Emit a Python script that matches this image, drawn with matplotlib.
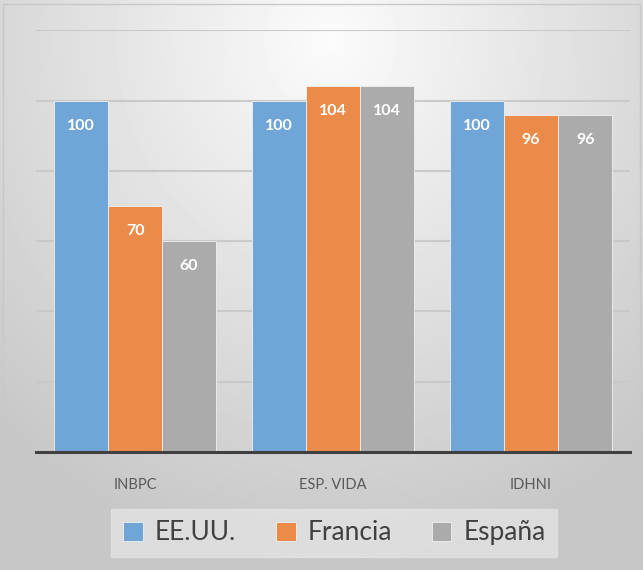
import numpy as np
import matplotlib
matplotlib.use('Agg')
import matplotlib.pyplot as plt
from matplotlib.patches import Rectangle

# Data
categories = ['INBPC', 'ESP. VIDA', 'IDHNI']
series_names = ['EE.UU.', 'Francia', 'España']
eeuu = [100, 100, 100]
francia = [70, 104, 96]
espana = [60, 104, 96]
colors = ['#6fa5d7', '#eb8b4a', '#ababab']

fig = plt.figure(figsize=(6.43, 5.70), dpi=100)

# background radial gradient
bg = fig.add_axes([0, 0, 1, 1], zorder=-10)
yy, xx = np.mgrid[0:570, 0:643]
r = np.sqrt(((xx - 330) / 520.0) ** 2 + ((yy - 40) / 560.0) ** 2)
shade = np.clip(0.985 - 0.22 * r, 0.78, 0.985)
bg.imshow(shade, cmap='gray', vmin=0, vmax=1, aspect='auto',
          extent=[0, 1, 0, 1], origin='upper')
bg.add_patch(Rectangle((0.004, 0.0), 0.992, 0.993, transform=bg.transAxes,
                       fill=False, edgecolor='#c8c8c8', linewidth=1))
bg.set_axis_off()

ax = fig.add_axes([0.056, 0.207, 0.924, 0.740])
ax.patch.set_alpha(0)

x = np.arange(len(categories))
width = 0.273
all_series = [eeuu, francia, espana]
for i, (vals, name, col) in enumerate(zip(all_series, series_names, colors)):
    pos = x + (i - 1) * width
    bars = ax.bar(pos, vals, width, color=col, edgecolor='#f0f0f0',
                  linewidth=0.6, label=name, zorder=3)
    for b, v in zip(bars, vals):
        ax.annotate(str(v), (b.get_x() + b.get_width() / 2, v),
                    xytext=(0, -18), textcoords='offset points',
                    ha='center', va='center', color='white',
                    fontsize=11.5, fontweight='bold', family='Lato', zorder=4)

ax.set_xlim(-0.5, 2.5)
ax.set_ylim(0, 120)
ax.set_yticks(np.arange(0, 121, 20))
ax.yaxis.grid(True, color='#c9c9c9', linewidth=1.5, zorder=0)
ax.tick_params(axis='y', left=False, labelleft=False)
ax.tick_params(axis='x', bottom=False, pad=15, labelsize=10.5,
               labelcolor='#595959')
ax.set_xticks(x)
ax.set_xticklabels(categories, family='Lato')
for s in ['top', 'right', 'left']:
    ax.spines[s].set_visible(False)
ax.spines['bottom'].set_color('#404040')
ax.spines['bottom'].set_linewidth(2.2)
ax.spines['bottom'].set_zorder(5)

leg = fig.legend(loc='center', bbox_to_anchor=(0.52, 0.065), ncol=3,
                 frameon=True, fancybox=False, prop={'family': 'Lato', 'size': 19},
                 handlelength=0.75, handleheight=0.75, handletextpad=0.45,
                 columnspacing=1.5, borderpad=0.45)
leg.get_frame().set_facecolor('#e6e6e6')
leg.get_frame().set_edgecolor('#e6e6e6')
leg.get_frame().set_alpha(0.7)
for t in leg.get_texts():
    t.set_color('#404040')

fig.savefig('out.png', dpi=100)
